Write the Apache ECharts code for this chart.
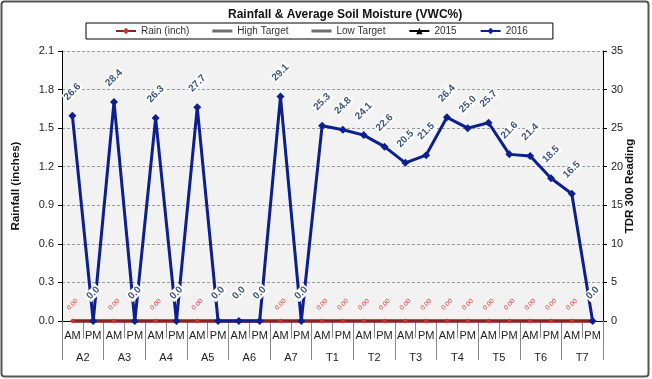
<!DOCTYPE html>
<html>
<head>
<meta charset="utf-8">
<script src="https://cdn.jsdelivr.net/npm/echarts@6/dist/echarts.min.js"></script>
<style>
html,body{margin:0;padding:0;background:#fff;}
#c{width:652px;height:379px;}
</style>
</head>
<body>
<div id="c"></div>
<script>
var groups = ['A2','A3','A4','A5','A6','A7','T1','T2','T3','T4','T5','T6','T7'];
var sessions = ['AM','PM'];
var rain = [0,0, 0,0, 0,0, 0,0, 0,0, 0,0, 0,0, 0,0, 0,0, 0,0, 0,0, 0,0, 0,0];
var soil2016 = [26.6,0.0, 28.4,0.0, 26.3,0.0, 27.7,0.0, 0.0,0.0, 29.1,0.0, 25.3,24.8, 24.1,22.6, 20.5,21.5, 26.4,25.0, 25.7,21.6, 21.4,18.5, 16.5,0.0];
var highTarget = [null];
var lowTarget = [null];
var soil2015 = [null];
var leftTicks = [0, 0.3, 0.6, 0.9, 1.2, 1.5, 1.8, 2.1];
var rightTicks = [0, 5, 10, 15, 20, 25, 30, 35];

var cats = [];
groups.forEach(function(g){ sessions.forEach(function(s){ cats.push(s); }); });

var font = 'Liberation Sans, Arial, sans-serif';
var chart = echarts.init(document.getElementById('c'));

var soilData = soil2016.map(function(v){
  return v === 0 ? {value: v, label: {distance: 24}} : {value: v};
});
var barIcon = 'path://M0,0 L20,0 L20,3 L0,3 Z';

chart.setOption({
  animation: false,
  backgroundColor: '#fff',
  textStyle: {fontFamily: font},
  graphic: [{
    type: 'rect', shape: {x: 1.5, y: 1.5, width: 647, height: 375, r: 3},
    style: {fill: 'none', stroke: '#555', lineWidth: 2}, silent: true, z: 100
  }],
  title: {
    text: 'Rainfall & Average Soil Moisture (VWC%)',
    left: 228, top: 9, padding: 0,
    textStyle: {fontFamily: font, fontSize: 12, fontWeight: 'bold', color: '#111'}
  },
  legend: {
    left: 86, top: 23,
    padding: [3, 25, 3, 29],
    borderColor: '#000', borderWidth: 1,
    itemGap: 23, itemWidth: 20, itemHeight: 8,
    textStyle: {fontFamily: font, fontSize: 10, color: '#333'},
    data: ['Rain (inch)', {name: 'High Target', icon: barIcon}, {name: 'Low Target', icon: barIcon}, '2015', '2016']
  },
  grid: {left: 62, right: 49, top: 51, bottom: 58, show: true, backgroundColor: '#f2f2f2', borderWidth: 0},
  xAxis: [{
    type: 'category', data: cats, position: 'bottom', boundaryGap: true,
    axisLine: {show: true, lineStyle: {color: '#000', width: 1}},
    axisTick: {show: true, length: 17, lineStyle: {color: '#888'}},
    axisLabel: {margin: 9, fontSize: 11, color: '#222', fontFamily: font, interval: 0}
  }, {
    type: 'category', data: groups, position: 'bottom', boundaryGap: true,
    axisLine: {show: false},
    axisTick: {show: true, length: 39, lineStyle: {color: '#888'}},
    axisLabel: {margin: 31, fontSize: 11, color: '#222', fontFamily: font, interval: 0}
  }],
  yAxis: [{
    type: 'value', min: leftTicks[0], max: leftTicks[leftTicks.length - 1], interval: 0.3,
    name: 'Rainfall (inches)', nameLocation: 'middle', nameRotate: 90, nameGap: 40,
    nameMoveOverlap: false,
    nameTextStyle: {fontFamily: font, fontSize: 11.5, fontWeight: 'bold', color: '#111'},
    axisLine: {show: true, lineStyle: {color: '#000'}},
    axisTick: {show: true, length: 4, lineStyle: {color: '#000'}},
    axisLabel: {margin: 8, fontSize: 11, color: '#222', fontFamily: font,
      formatter: function(v){ return v.toFixed(1); }},
    splitLine: {show: true, lineStyle: {color: '#9a9a9a', type: [3, 2]}}
  }, {
    type: 'value', min: rightTicks[0], max: rightTicks[rightTicks.length - 1], interval: 5,
    name: 'TDR 300 Reading', nameLocation: 'middle', nameRotate: 90, nameGap: 21,
    nameMoveOverlap: false,
    nameTextStyle: {fontFamily: font, fontSize: 11.5, fontWeight: 'bold', color: '#111'},
    axisLine: {show: true, lineStyle: {color: '#000'}},
    axisTick: {show: true, length: 4, lineStyle: {color: '#000'}},
    axisLabel: {margin: 8, fontSize: 11, color: '#222', fontFamily: font},
    splitLine: {show: false}
  }],
  series: [{
    name: 'Rain (inch)', type: 'line', yAxisIndex: 0, data: rain, clip: false,
    symbol: 'diamond', symbolSize: 5, showAllSymbol: true,
    lineStyle: {color: '#8b2020', width: 3.5},
    itemStyle: {color: '#d03030'},
    label: {
      show: true, position: 'top', distance: 14, rotate: 45,
      align: 'center', verticalAlign: 'middle',
      fontSize: 6.5, color: '#d84040', fontFamily: font,
      formatter: function(p){ return soil2016[p.dataIndex] === 0 ? '' : p.value.toFixed(2); }
    },
    z: 4
  }, {
    name: 'High Target', type: 'line', yAxisIndex: 1, data: highTarget,
    symbol: 'none', showSymbol: false, lineStyle: {color: '#6d6d6d', width: 3}, itemStyle: {color: '#6d6d6d'}
  }, {
    name: 'Low Target', type: 'line', yAxisIndex: 1, data: lowTarget,
    symbol: 'none', showSymbol: false, lineStyle: {color: '#6d6d6d', width: 3}, itemStyle: {color: '#6d6d6d'}
  }, {
    name: '2015', type: 'line', yAxisIndex: 1, data: soil2015,
    symbol: 'triangle', symbolSize: 7, lineStyle: {color: '#000', width: 1.5}, itemStyle: {color: '#000'}
  }, {
    name: '2016', type: 'line', yAxisIndex: 1, data: soilData, clip: false,
    symbol: 'diamond', symbolSize: 8, showAllSymbol: true,
    lineStyle: {color: '#0c1f8c', width: 3},
    itemStyle: {color: '#0c1f8c'},
    label: {
      show: true, position: 'top', distance: 20, rotate: 45,
      align: 'center', verticalAlign: 'middle',
      fontSize: 10, fontWeight: 'bold', color: '#3d557f', fontFamily: font,
      backgroundColor: '#fff', padding: [0, 1],
      formatter: function(p){ return p.value.toFixed(1); }
    },
    z: 5
  }]
});
</script>
</body>
</html>
